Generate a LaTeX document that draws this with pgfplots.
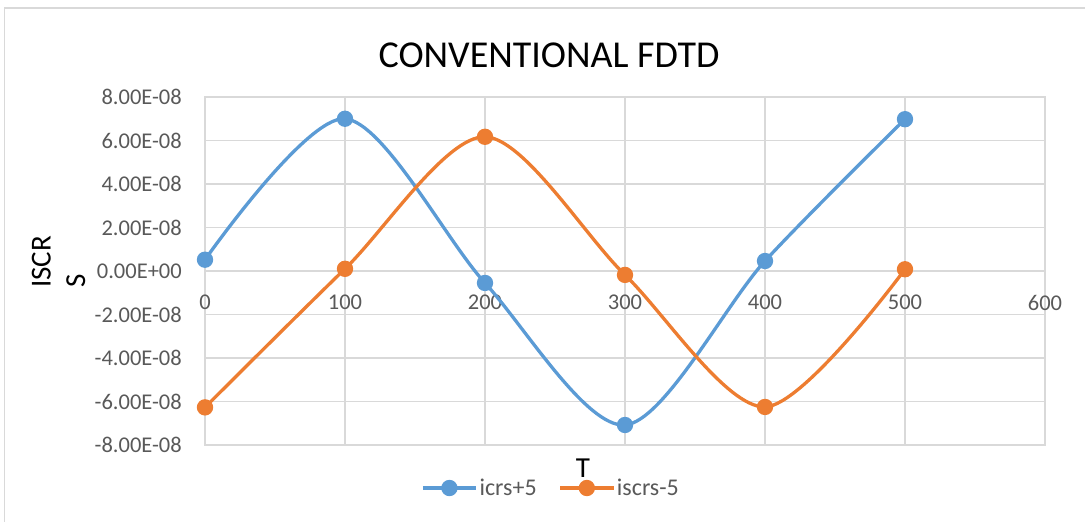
\documentclass[border=0pt]{standalone}
\usepackage{fontspec}
\setmainfont{Carlito}
\usepackage{pgfplots}
\pgfplotsset{compat=1.18}
\definecolor{gridgray}{HTML}{D9D9D9}
\definecolor{tickgray}{HTML}{595959}
\definecolor{xlblue}{HTML}{5B9BD5}
\definecolor{xlorange}{HTML}{ED7D31}
\begin{document}
\begin{tikzpicture}[x=1pt,y=1pt]
\path[use as bounding box] (0,0) rectangle (1085,522);
\draw[gridgray, line width=1.5pt] (4.5,-10) -- (4.5,514) -- (1095,514);
\node[font=\fontsize{38}{42}\selectfont, text=black] at (549,467) {CONVENTIONAL FDTD};
\node[rotate=90, anchor=base west, inner sep=0pt, font=\fontsize{29}{32}\selectfont] at (50.5,234) {ISCR};
\node[rotate=90, anchor=base west, inner sep=0pt, font=\fontsize{29}{32}\selectfont] at (85,234) {S};
\node[font=\fontsize{29}{32}\selectfont] at (583,54) {T};
\begin{axis}[
  at={(205pt,77pt)}, anchor=south west,
  scale only axis, width=840pt, height=348pt,
  xmin=0, xmax=600, ymin=-8e-8, ymax=8e-8,
  xtick={0,100,...,600},
  ytick={-8e-8,-6e-8,-4e-8,-2e-8,0,2e-8,4e-8,6e-8,8e-8},
  yticklabels={-8.00E-08,-6.00E-08,-4.00E-08,-2.00E-08,0.00E+00,2.00E-08,4.00E-08,6.00E-08,8.00E-08},
  scaled y ticks=false,
  /pgf/number format/assume math mode=true,
  major tick length=0pt,
  grid=major,
  major grid style={draw=gridgray, line width=1.3pt},
  axis line style={draw=gridgray, line width=1.3pt},
  tick label style={font=\fontsize{22.5}{26}\selectfont, text=tickgray, inner sep=0pt},
  yticklabel style={anchor=east, xshift=-23pt},
  xticklabel style={anchor=north, yshift=150pt},
  legend columns=2,
  legend style={at={(axis description cs:0.412,-0.1236)}, anchor=center, draw=none, fill=none,
    font=\fontsize{24}{28}\selectfont, text=tickgray,
    /tikz/every even column/.append style={column sep=20pt}},
  legend image code/.code={\draw[#1, mark repeat=2, mark phase=2] plot coordinates {(0pt,0pt) (26.5pt,0pt) (53pt,0pt)};},
  every axis plot/.append style={line width=3.3pt, smooth, mark=*, mark size=6.5pt, mark options={solid}},
]
\addplot[color=xlblue, mark options={fill=xlblue, draw=xlblue}] coordinates {
(0,0.52e-8) (100,7.0e-8) (200,-0.55e-8) (300,-7.08e-8) (400,0.46e-8) (500,6.98e-8)};
\addlegendentry{icrs+5}
\addplot[color=xlorange, mark options={fill=xlorange, draw=xlorange}] coordinates {
(0,-6.27e-8) (100,0.1e-8) (200,6.17e-8) (300,-0.18e-8) (400,-6.25e-8) (500,0.08e-8)};
\addlegendentry{iscrs-5}
\end{axis}
\end{tikzpicture}
\end{document}
